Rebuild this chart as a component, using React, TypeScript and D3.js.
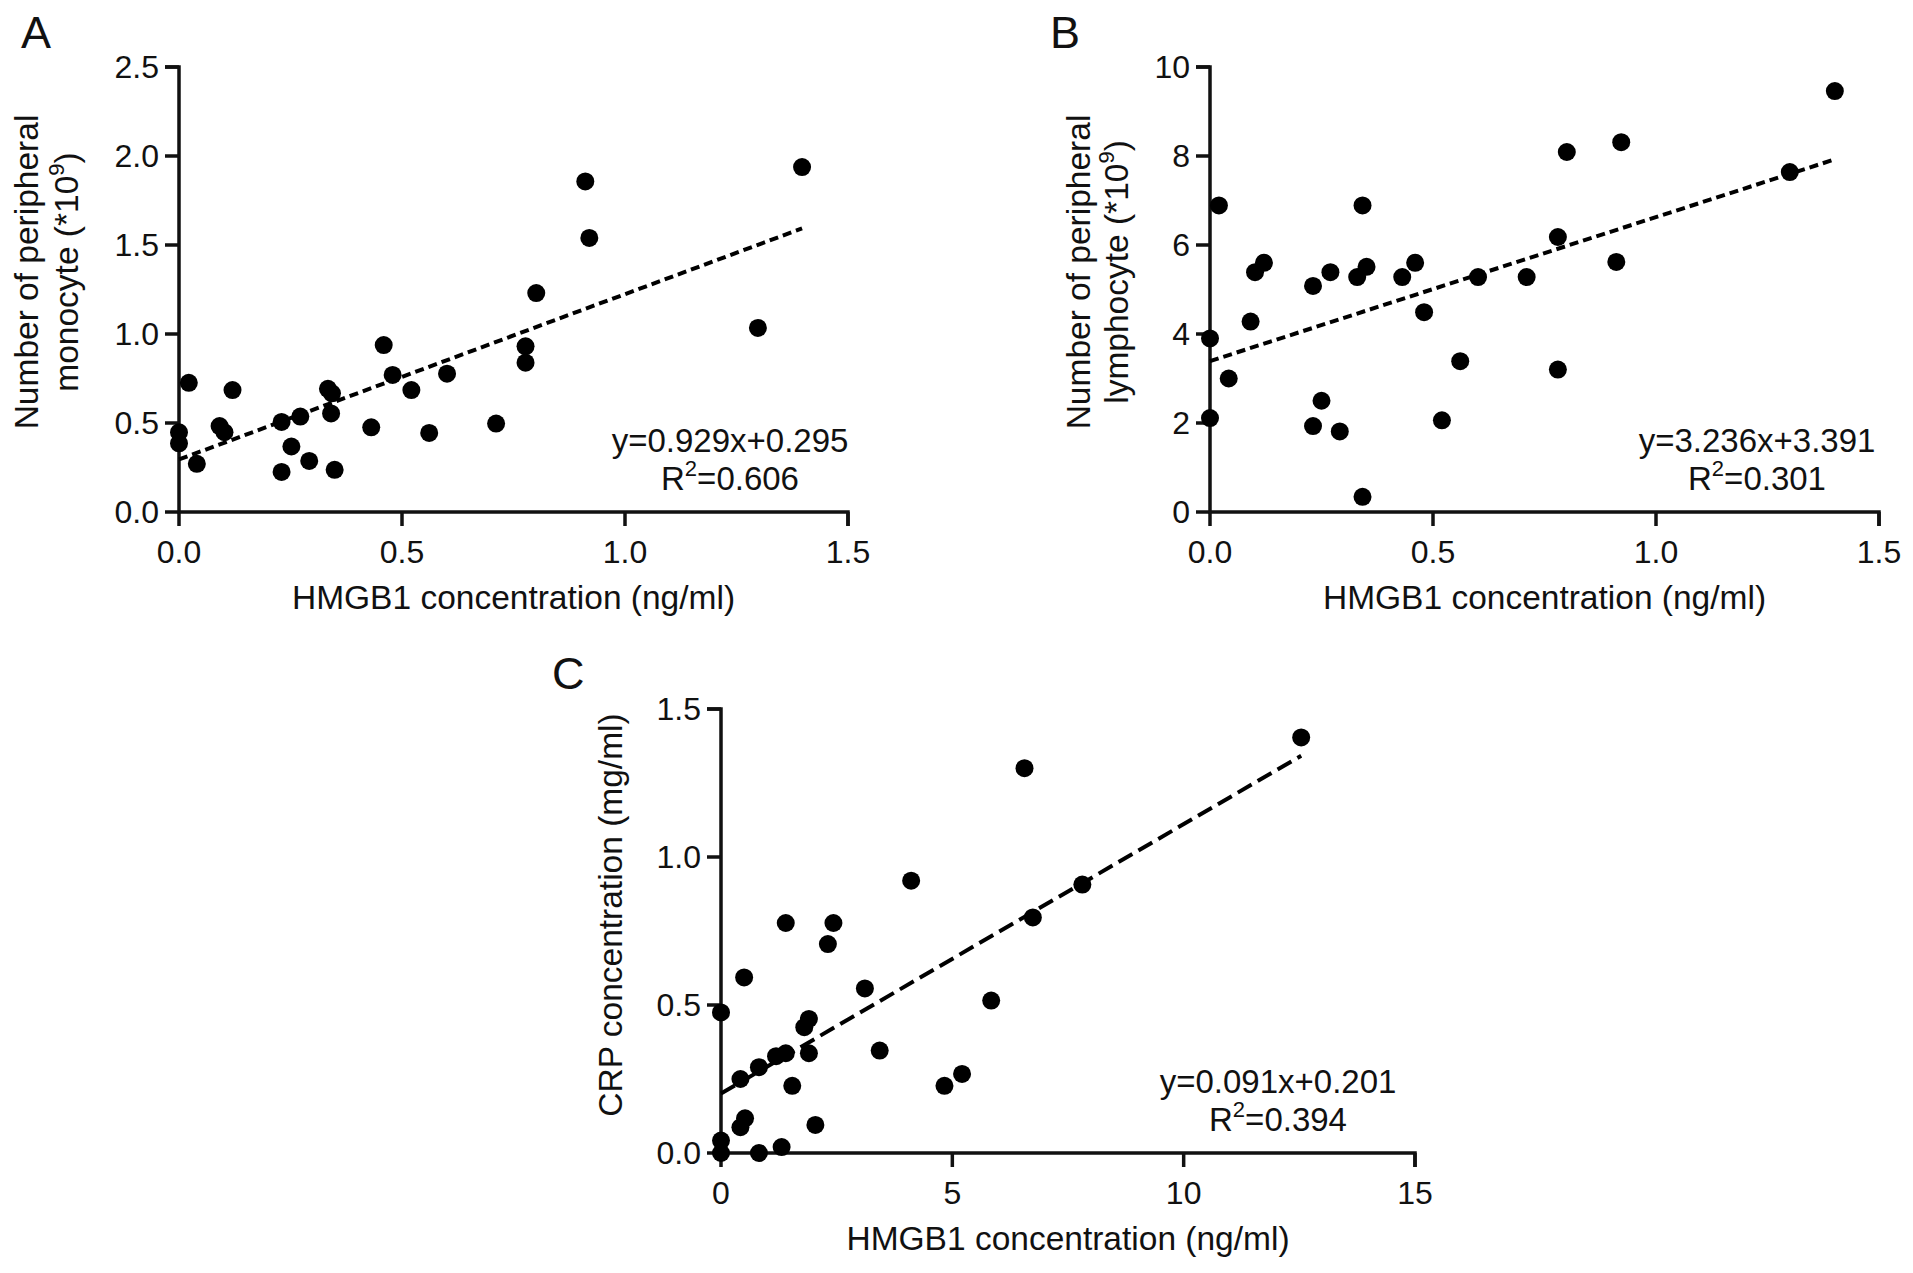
import * as d3 from "d3";

// HMGB1 concentration (ng/ml) vs peripheral monocyte count (*10^9)
const hmgbA = [0, 0, 0.022, 0.04, 0.091, 0.102, 0.12, 0.23, 0.23, 0.252, 0.272, 0.292, 0.334, 0.343, 0.341,
    0.349, 0.431, 0.459, 0.479, 0.521, 0.561, 0.601, 0.711, 0.777, 0.777, 0.801, 0.911, 0.92, 1.298, 1.397];
const monocyte = [0.448, 0.386, 0.726, 0.271, 0.483, 0.448, 0.685, 0.506, 0.225, 0.368, 0.536, 0.287, 0.692, 0.667, 0.554,
    0.237, 0.476, 0.938, 0.77, 0.685, 0.444, 0.777, 0.497, 0.931, 0.839, 1.23, 1.857, 1.54, 1.034, 1.938];

// HMGB1 concentration vs peripheral lymphocyte count (*10^9)
const hmgbB = [0.02, 0, 0, 0.042, 0.091, 0.101, 0.121, 0.231, 0.231, 0.25, 0.27, 0.291, 0.33, 0.342, 0.351,
    0.342, 0.431, 0.46, 0.48, 0.52, 0.561, 0.601, 0.71, 0.78, 0.78, 0.8, 0.911, 0.922, 1.3, 1.401];
const lymphocyte = [6.89, 3.9, 2.11, 3.0, 4.28, 5.39, 5.6, 5.08, 1.93, 2.5, 5.39, 1.81, 5.28, 6.89, 5.51,
    0.34, 5.28, 5.6, 4.49, 2.06, 3.39, 5.28, 5.28, 6.18, 3.2, 8.09, 5.62, 8.31, 7.64, 9.46];

// HMGB1 concentration vs CRP concentration (mg/ml)
const hmgbC = [0, 0, 0, 0.42, 0.42, 0.52, 0.5, 0.82, 0.82, 1.19, 1.31, 1.4, 1.4, 1.54, 1.8,
    1.9, 1.9, 2.04, 2.31, 2.43, 3.11, 3.43, 4.11, 4.83, 5.21, 5.84, 6.56, 6.74, 7.81, 12.54];
const crp = [0.475, 0.042, 0.0, 0.25, 0.087, 0.117, 0.593, 0.29, 0.0, 0.327, 0.02, 0.777, 0.337, 0.227, 0.425,
    0.453, 0.337, 0.095, 0.706, 0.777, 0.556, 0.346, 0.92, 0.227, 0.267, 0.515, 1.3, 0.796, 0.907, 1.404];

// ticks
const xTicksAB = [0, 0.5, 1.0, 1.5];
const yTicksA = [0, 0.5, 1.0, 1.5, 2.0, 2.5];
const yTicksB = [0, 2, 4, 6, 8, 10];
const xTicksC = [0, 5, 10, 15];
const yTicksC = [0, 0.5, 1.0, 1.5];

// linear fits printed on the panels
const fitA = [0.929, 0.295];
const fitB = [3.236, 3.391];
const fitC = [0.091, 0.201];
const r2 = ["0.606", "0.301", "0.394"];

const font = "'Liberation Sans', Arial, sans-serif";
const ink = "#111";

const Sup = ({base, sup, rest}) => <>
    <tspan>{base}</tspan>
    <tspan dy={-14} fontSize={22}>{sup}</tspan>
    <tspan dy={14}>{rest}</tspan>
</>

const Panel = ({box, xs, ys, xTicks, yTicks, xFmt, yFmt, fit, r2Text, dash, yTitle, letter, eqX}) => {
    const x = d3.scaleLinear().domain([xTicks[0], xTicks[xTicks.length - 1]]).range([box.left, box.right]);
    const y = d3.scaleLinear().domain([yTicks[0], yTicks[yTicks.length - 1]]).range([box.bottom, box.top]);
    const pts = xs.map((v, i) => [v, ys[i]]);
    const [x0, x1] = d3.extent(xs);
    const line = d3.line().x(d => x(d[0])).y(d => y(d[1]));
    const fitPath = line([[x0, fit[0] * x0 + fit[1]], [x1, fit[0] * x1 + fit[1]]]);
    const cy = (box.top + box.bottom) / 2;

    return <g fontFamily={font} fill={ink}>
        <text x={letter[0]} y={letter[1]} fontSize={45}>{letter[2]}</text>

        {/* axes */}
        <path d={`M${box.left - 14},${box.top}H${box.left}V${box.bottom}H${box.right}V${box.bottom + 14}`}
              fill="none" stroke={ink} strokeWidth={3.5} strokeLinejoin="miter"/>
        {yTicks.map(t => <g key={"y" + t}>
            <line x1={box.left - 14} x2={box.left} y1={y(t)} y2={y(t)} stroke={ink} strokeWidth={3.5}/>
            <text x={box.left - 20} y={y(t) + 11} fontSize={32} textAnchor="end">{yFmt(t)}</text>
        </g>)}
        {xTicks.map(t => <g key={"x" + t}>
            <line x1={x(t)} x2={x(t)} y1={box.bottom} y2={box.bottom + 14} stroke={ink} strokeWidth={3.5}/>
            <text x={x(t)} y={box.bottom + 51} fontSize={32} textAnchor="middle">{xFmt(t)}</text>
        </g>)}

        <text x={(box.left + box.right) / 2} y={box.bottom + 97} fontSize={33.5} textAnchor="middle">
            HMGB1 concentration (ng/ml)
        </text>
        {yTitle.lines.map((l, i) =>
            <text key={i} transform={`translate(${yTitle.x[i]},${yTitle.cy ?? cy}) rotate(-90)`}
                  fontSize={33.5} textAnchor="middle">
                {l.sup ? <Sup base={l.base} sup={l.sup} rest={l.rest}/> : l.base}
            </text>)}

        {/* points + fit */}
        {pts.map((d, i) => <circle key={i} cx={x(d[0])} cy={y(d[1])} r={9} fill="#000"/>)}
        <path d={fitPath} fill="none" stroke="#000" strokeWidth={4} strokeDasharray={dash}/>

        <text x={eqX} y={box.bottom - 60} fontSize={33} textAnchor="middle">
            y={fit[0].toFixed(3)}x+{fit[1].toFixed(3)}
        </text>
        <text x={eqX} y={box.bottom - 22} fontSize={33} textAnchor="middle">
            <Sup base="R" sup="2" rest={"=" + r2Text}/>
        </text>
    </g>
}

const App = () => {
    const f1 = d3.format(".1f");
    const fd = d3.format("d");
    return <svg width={1913} height={1273} style={{position: "absolute", left: 0, top: 0, background: "#fff"}}>
        <rect width={1913} height={1273} fill="#fff"/>
        <Panel box={{left: 179, right: 848, top: 67, bottom: 512}} xs={hmgbA} ys={monocyte}
               xTicks={xTicksAB} yTicks={yTicksA} xFmt={f1} yFmt={f1} fit={fitA} r2Text={r2[0]} dash="9 5"
               letter={[21, 48, "A"]} eqX={730}
               yTitle={{x: [38, 78], cy: 272, lines: [{base: "Number of peripheral"}, {base: "monocyte (*10", sup: "9", rest: ")"}]}}/>
        <Panel box={{left: 1210, right: 1879, top: 67, bottom: 512}} xs={hmgbB} ys={lymphocyte}
               xTicks={xTicksAB} yTicks={yTicksB} xFmt={f1} yFmt={fd} fit={fitB} r2Text={r2[1]} dash="9 5"
               letter={[1050, 48, "B"]} eqX={1757}
               yTitle={{x: [1090, 1128], cy: 272, lines: [{base: "Number of peripheral"}, {base: "lymphocyte (*10", sup: "9", rest: ")"}]}}/>
        <Panel box={{left: 721, right: 1415, top: 709, bottom: 1153}} xs={hmgbC} ys={crp}
               xTicks={xTicksC} yTicks={yTicksC} xFmt={fd} yFmt={f1} fit={fitC} r2Text={r2[2]} dash="16 7"
               letter={[552, 689, "C"]} eqX={1278}
               yTitle={{x: [622], cy: 915, lines: [{base: "CRP concentration (mg/ml)"}]}}/>
    </svg>
}

export default App
